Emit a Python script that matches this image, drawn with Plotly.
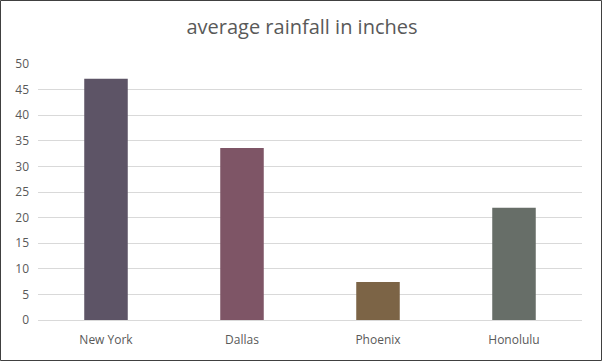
import plotly.graph_objects as go

cities = ["New York", "Dallas", "Phoenix", "Honolulu"]
rainfall = [47.1, 33.6, 7.4, 21.9]
bar_colors = ["#5d5466", "#7e5566", "#7c6446", "#676e68"]
y_ticks = [0, 5, 10, 15, 20, 25, 30, 35, 40, 45, 50]

W, H = 604, 362
L, R, T, B = 38, 22, 64, 42
pw = W - L - R
ph = H - T - B

fig = go.Figure(go.Bar(x=cities, y=rainfall, marker=dict(color=bar_colors, line=dict(width=0)),
                       width=0.32))
fig.update_layout(
    width=W, height=H,
    margin=dict(l=L, r=R, t=T, b=B, autoexpand=False),
    paper_bgcolor="white", plot_bgcolor="white",
    title=dict(text="average rainfall in inches", x=0.5, xanchor="center", y=1 - 27 / H, yanchor="middle",
               font=dict(family="Open Sans", size=20, color="#595959")),
    font=dict(family="Open Sans", size=12, color="#595959"),
    showlegend=False,
)
fig.update_xaxes(showgrid=False, showline=False, ticks="", ticklabelstandoff=11,
                 tickfont=dict(size=12, color="#595959"))
fig.update_yaxes(range=[0, 50], tickvals=y_ticks, showgrid=True, gridcolor="#d9d9d9", gridwidth=1,
                 zeroline=True, zerolinecolor="#d9d9d9", zerolinewidth=1, showline=False,
                 ticks="", ticklabelstandoff=8, tickfont=dict(size=12, color="#595959"))
fig.add_shape(type="rect", xref="paper", yref="paper",
              x0=-(L - 0.5) / pw, x1=1 + (R - 2.5) / pw, y0=-(B - 1.5) / ph, y1=1 + (T - 0.5) / ph,
              line=dict(color="#404040", width=1), fillcolor="rgba(0,0,0,0)", layer="above")
fig.write_html("out.html", config={"displayModeBar": False},
               post_script="document.body.style.margin='0';")
